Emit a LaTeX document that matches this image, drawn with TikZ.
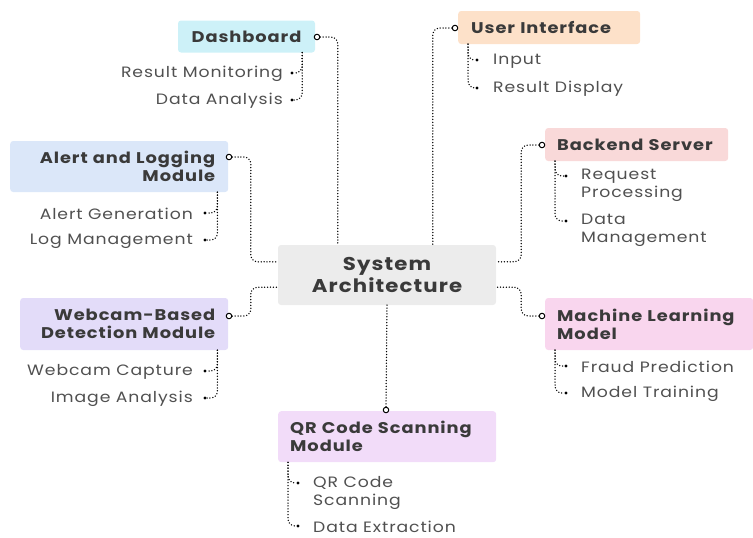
\documentclass[tikz,border=0pt]{standalone}
\usepackage{fontspec}
\setmainfont{Poppins}[FakeStretch=1.15, LetterSpace=6]
\usetikzlibrary{calc}
\definecolor{headtext}{HTML}{3A3A3A}
\definecolor{leaftext}{HTML}{505050}
\definecolor{cDash}{HTML}{CDF1F8}
\definecolor{cUI}{HTML}{FDE1C9}
\definecolor{cAlert}{HTML}{DBE7F9}
\definecolor{cBack}{HTML}{F9D9D9}
\definecolor{cCenter}{HTML}{ECECEC}
\definecolor{cWeb}{HTML}{E3DCF9}
\definecolor{cML}{HTML}{F9D6EE}
\definecolor{cQR}{HTML}{F2DCF9}
\tikzset{
  box/.style={rounded corners=3pt, inner sep=0pt, text=headtext,
    font=\fontsize{15.5}{18}\selectfont\bfseries},
  hub/.style={box, font=\fontsize{18.5}{22}\selectfont\bfseries, align=center},
  leaf/.style={text=leaftext, inner sep=0pt, font=\fontsize{15}{18}\selectfont},
  conn/.style={draw=black, line width=1.5pt, line cap=round,
    dash pattern=on 0pt off 2.9pt, rounded corners=7pt},
  port/.style={circle, draw=black, fill=white, line width=1pt,
    minimum size=5.5pt, inner sep=0pt},
  cdot/.style={circle, fill=black, minimum size=3.4pt, inner sep=0pt},
}
\begin{document}
\begin{tikzpicture}[x=1pt, y=-1pt]
\useasboundingbox (0,0) rectangle (753,538);

% central topic
\node[hub, fill=cCenter, minimum width=218pt, minimum height=60pt]
  (center) at (387,275) {System\\Architecture};

% ---- Dashboard
\node[box, fill=cDash, minimum width=137pt, minimum height=32pt]
  (dash) at (246.5,36.5) {Dashboard};
\node[port] (dashP) at (317,37) {};
\node[leaf, anchor=east] (dash1) at (283,74) {Result Monitoring};
\node[leaf, anchor=east] (dash2) at (283,101) {Data Analysis};
\node[cdot] (dash1D) at (292,73) {};
\node[cdot] (dash2D) at (292,100) {};
\draw[conn] (dashP.east) -| ([xshift=60pt]center.north west);
\draw[conn] ([xshift=-13pt]dash.south east) |- (dash1D);
\draw[conn] ([xshift=-13pt]dash.south east) |- (dash2D);

% ---- User Interface
\node[box, fill=cUI, minimum width=182pt, minimum height=33pt, anchor=west,
  text width=156pt, align=left, inner xsep=13pt]
  (ui) at (458,27.5) {User Interface};
\node[port] (uiP) at (455,28) {};
\node[leaf, anchor=west] (ui1) at (493,61) {Input};
\node[leaf, anchor=west] (ui2) at (493,89) {Result Display};
\node[cdot] (ui1D) at (477,60) {};
\node[cdot] (ui2D) at (477,88) {};
\draw[conn] (uiP.west) -| ([xshift=155pt]center.north west);
\draw[conn] ([xshift=10pt]ui.south west) |- (ui1D);
\draw[conn] ([xshift=10pt]ui.south west) |- (ui2D);

% ---- Alert and Logging Module
\node[box, fill=cAlert, minimum width=218pt, minimum height=51pt,
  text width=192pt, align=right, anchor=west, inner xsep=0pt]
  (alert) at (10,166.5) {Alert and Logging\\Module};
\node[port] (alertP) at (229,157) {};
\node[leaf, anchor=east] (alert1) at (193,214) {Alert Generation};
\node[leaf, anchor=east] (alert2) at (193,241) {Log Management};
\node[cdot] (alert1D) at (205,213) {};
\node[cdot] (alert2D) at (205,240) {};
\draw[conn] (alertP.east) -| ([xshift=-27pt,yshift=-17pt]center.north west)
  -- ([yshift=-17pt]center.north west);
\draw[conn] ([xshift=-11pt]alert.south east) |- (alert1D);
\draw[conn] ([xshift=-11pt]alert.south east) |- (alert2D);

% ---- Backend Server
\node[box, fill=cBack, minimum width=183pt, minimum height=33pt, anchor=west,
  text width=159pt, align=left, inner xsep=12pt]
  (back) at (545,144.5) {Backend Server};
\node[port] (backP) at (542,145) {};
\node[leaf, anchor=north west, align=left] (back1) at (581,169)
  {Request\\Processing};
\node[leaf, anchor=north west, align=left] (back2) at (581,214)
  {Data\\Management};
\node[cdot] (back1D) at (566,176) {};
\node[cdot] (back2D) at (566,221) {};
\draw[conn] (backP.west) -| ([xshift=25pt,yshift=-17pt]center.north east)
  -- ([yshift=-17pt]center.north east);
\draw[conn] ([xshift=10pt]back.south west) |- (back1D);
\draw[conn] ([xshift=10pt]back.south west) |- (back2D);

% ---- Webcam-Based Detection Module
\node[box, fill=cWeb, minimum width=208pt, minimum height=52pt,
  text width=182pt, align=right, anchor=west, inner xsep=0pt]
  (web) at (20,324) {Webcam-Based\\Detection Module};
\node[port] (webP) at (229,316) {};
\node[leaf, anchor=east] (web1) at (193,372) {Webcam Capture};
\node[leaf, anchor=east] (web2) at (193,399) {Image Analysis};
\node[cdot] (web1D) at (205,371) {};
\node[cdot] (web2D) at (205,398) {};
\draw[conn] (webP.east) -| ([xshift=-27pt,yshift=18pt]center.south west)
  -- ([yshift=18pt]center.south west);
\draw[conn] ([xshift=-11pt]web.south east) |- (web1D);
\draw[conn] ([xshift=-11pt]web.south east) |- (web2D);

% ---- Machine Learning Model
\node[box, fill=cML, minimum width=208pt, minimum height=52pt, anchor=west,
  text width=184pt, align=left, inner xsep=12pt]
  (ml) at (545,324) {Machine Learning\\Model};
\node[port] (mlP) at (542,316) {};
\node[leaf, anchor=west] (ml1) at (581,367) {Fraud Prediction};
\node[leaf, anchor=west] (ml2) at (581,394) {Model Training};
\node[cdot] (ml1D) at (566,366) {};
\node[cdot] (ml2D) at (566,393) {};
\draw[conn] (mlP.west) -| ([xshift=25pt,yshift=18pt]center.south east)
  -- ([yshift=18pt]center.south east);
\draw[conn] ([xshift=10pt]ml.south west) |- (ml1D);
\draw[conn] ([xshift=10pt]ml.south west) |- (ml2D);

% ---- QR Code Scanning Module
\node[box, fill=cQR, minimum width=218pt, minimum height=51pt, anchor=north west,
  text width=194pt, align=left, inner xsep=12pt]
  (qr) at (278,411) {QR Code Scanning\\Module};
\node[port] (qrP) at (386,410) {};
\node[leaf, anchor=north west, align=left] (qr1) at (313,476)
  {QR Code\\Scanning};
\node[leaf, anchor=west] (qr2) at (313,526.5) {Data Extraction};
\node[cdot] (qr1D) at (298,483) {};
\node[cdot] (qr2D) at (298,526) {};
\draw[conn] (center.south) -- (qrP.north);
\draw[conn] ([xshift=10pt]qr.south west) |- (qr1D);
\draw[conn] ([xshift=10pt]qr.south west) |- (qr2D);
\end{tikzpicture}
\end{document}
